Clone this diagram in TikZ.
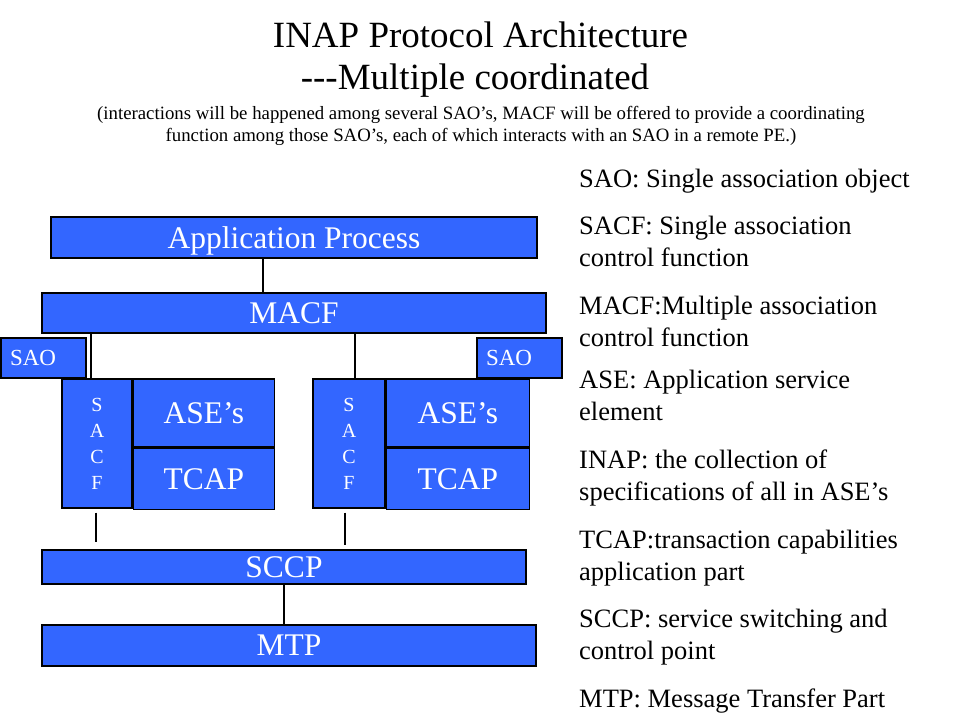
\documentclass[tikz,border=0pt]{standalone}
\usepackage{fontspec}
\setmainfont{Liberation Serif}
\usetikzlibrary{positioning}
\definecolor{slideblue}{RGB}{51,102,255}
\tikzstyle{layer}=[rectangle,draw=black,line width=1.3pt,fill=slideblue,
  			  text=white,inner sep=0pt,text depth=0pt,font=\fontsize{31.5}{31.5}\selectfont]
\tikzstyle{saobox}=[layer,font=\fontsize{23}{23}\selectfont,text width=67pt,
  			  inner xsep=9pt,align=left,minimum height=40pt]
\tikzstyle{sacfbox}=[layer,font=\fontsize{20}{26}\selectfont,align=center,
  			  minimum height=129pt]
\tikzstyle{legend}=[anchor=base west,align=left,inner sep=0pt,
  			  font=\fontsize{26.5}{32}\selectfont]
\tikzstyle{line}=[black,line width=1.2pt]

\begin{document}
\begin{tikzpicture}[x=1pt,y=-1pt]
	\useasboundingbox (0,0) rectangle (960,720);

	% title
	\node (title) at (480.5,47.7) [anchor=base,font=\fontsize{37}{37}\selectfont] {INAP Protocol Architecture};
	\node (subtitle) at (475,89) [anchor=base,font=\fontsize{37}{37}\selectfont] {{-}{-}{-}Multiple coordinated};
	\node (note) at (481,141) [anchor=base,align=center,inner sep=0pt,font=\fontsize{18.8}{22}\selectfont]
		{(interactions will be happened among several SAO's, MACF will be offered to provide a coordinating\\
		function among those SAO's, each of which interacts with an SAO in a remote PE.)};

	% layers
	\node[layer,minimum width=486pt,minimum height=41pt] (app) at (294,237.5) {Application Process};
	\node[layer,minimum width=504pt,minimum height=40pt] (macf) at (294,313) {MACF};
	\node[saobox] (sao1) at (43.5,358) {SAO};
	\node[saobox] (sao2) at (519.5,358) {SAO};

	\node[sacfbox,minimum width=70pt] (sacf1) at (97,443.5) {S\\A\\C\\F};
	\node[layer,minimum width=141pt,minimum height=68pt,anchor=north west] (ase1) at (sacf1.north east) {ASE's};
	\node[layer,minimum width=141pt,minimum height=61pt,anchor=north west] (tcap1) at (ase1.south west) {TCAP};

	\node[sacfbox,minimum width=72pt] (sacf2) at (349,443.5) {S\\A\\C\\F};
	\node[layer,minimum width=143pt,minimum height=68pt,anchor=north west] (ase2) at (sacf2.north east) {ASE's};
	\node[layer,minimum width=143pt,minimum height=61pt,anchor=north west] (tcap2) at (ase2.south west) {TCAP};

	\node[layer,minimum width=484pt,minimum height=34pt] (sccp) at (284,567) {SCCP};
	\node[layer,minimum width=494pt,minimum height=41pt] (mtp) at (289,645.5) {MTP};

	% connectors
	\draw[line] ([xshift=-31pt]app.south) -- ([xshift=-31pt]app.south |- macf.north);
	\draw[line] ([xshift=-6pt]sacf1.north) -- ([xshift=-6pt]sacf1.north |- macf.south);
	\draw[line] ([xshift=6pt]sacf2.north) -- ([xshift=6pt]sacf2.north |- macf.south);
	\draw[line,shorten <=4pt,shorten >=7pt] ([xshift=-1pt]sacf1.south) -- ([xshift=-1pt]sacf1.south |- sccp.north);
	\draw[line,shorten <=4pt,shorten >=4pt] ([xshift=-4pt]sacf2.south) -- ([xshift=-4pt]sacf2.south |- sccp.north);
	\draw[line] (sccp.south) -- (sccp.south |- mtp.north);

	% abbreviations (base = last line)
	\node[legend] (l1) at (579,187) {SAO: Single association object};
	\node[legend] (l2) at (579,266) {SACF: Single association\\control function};
	\node[legend] (l3) at (579,346) {MACF:Multiple association\\control function};
	\node[legend] (l4) at (579,420) {ASE: Application service\\element};
	\node[legend] (l5) at (579,500) {INAP: the collection of\\specifications of all in ASE's};
	\node[legend] (l6) at (579,580) {TCAP:transaction capabilities\\application part};
	\node[legend] (l7) at (579,659) {SCCP: service switching and\\control point};
	\node[legend] (l8) at (579,707) {MTP: Message Transfer Part};
\end{tikzpicture}
\end{document}
